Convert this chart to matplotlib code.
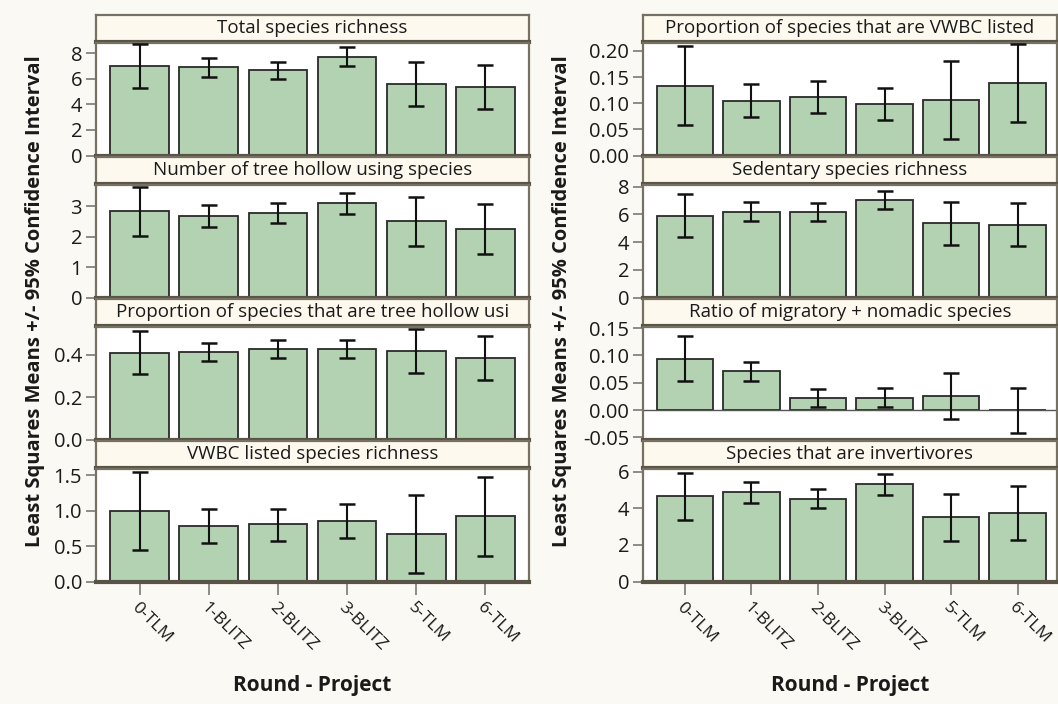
import matplotlib
matplotlib.use("Agg")
import matplotlib.pyplot as plt
from matplotlib.ticker import FixedLocator, FormatStrFormatter

plt.rcParams['font.family'] = ['Open Sans', 'DejaVu Sans']

rounds = ["0-TLM", "1-BLITZ", "2-BLITZ", "3-BLITZ", "5-TLM", "6-TLM"]

# Least squares means with lower / upper 95% confidence limits
total_rich = [7.00, 6.89, 6.65, 7.74, 5.59, 5.35]
total_rich_lo = [5.25, 6.15, 5.95, 7.00, 3.90, 3.66]
total_rich_hi = [8.76, 7.63, 7.34, 8.47, 7.31, 7.05]

hollow_n = [2.83, 2.68, 2.77, 3.09, 2.50, 2.25]
hollow_n_lo = [2.02, 2.32, 2.43, 2.74, 1.69, 1.44]
hollow_n_hi = [3.64, 3.03, 3.10, 3.43, 3.31, 3.06]

hollow_prop = [0.411, 0.413, 0.428, 0.427, 0.419, 0.387]
hollow_prop_lo = [0.308, 0.369, 0.385, 0.383, 0.316, 0.283]
hollow_prop_hi = [0.515, 0.456, 0.471, 0.472, 0.523, 0.491]

vwbc_rich = [1.00, 0.787, 0.81, 0.854, 0.674, 0.92]
vwbc_rich_lo = [0.44, 0.543, 0.575, 0.613, 0.113, 0.358]
vwbc_rich_hi = [1.55, 1.024, 1.03, 1.09, 1.22, 1.47]

vwbc_prop = [0.133, 0.105, 0.112, 0.098, 0.106, 0.139]
vwbc_prop_lo = [0.059, 0.073, 0.082, 0.067, 0.031, 0.064]
vwbc_prop_hi = [0.2085, 0.137, 0.142, 0.129, 0.180, 0.214]

sedentary = [5.91, 6.18, 6.18, 7.03, 5.36, 5.26]
sedentary_lo = [4.36, 5.53, 5.55, 6.40, 3.81, 3.69]
sedentary_hi = [7.46, 6.86, 6.81, 7.71, 6.86, 6.81]

migr_ratio = [0.094, 0.0716, 0.0214, 0.0226, 0.025, 0.0]
migr_ratio_lo = [0.0525, 0.054, 0.0049, 0.0054, -0.016, -0.0415]
migr_ratio_hi = [0.135, 0.0888, 0.0386, 0.0397, 0.067, 0.0405]

invert = [4.68, 4.86, 4.53, 5.30, 3.50, 3.74]
invert_lo = [3.38, 4.29, 4.02, 4.75, 2.20, 2.28]
invert_hi = [5.93, 5.41, 5.07, 5.85, 4.77, 5.21]

left_panels = [
    ("Total species richness", total_rich, total_rich_lo, total_rich_hi,
     (0, 8.84), [0, 2, 4, 6, 8], "%d"),
    ("Number of tree hollow using species", hollow_n, hollow_n_lo, hollow_n_hi,
     (0, 3.71), [0, 1, 2, 3], "%d"),
    ("Proportion of species that are tree hollow usi", hollow_prop,
     hollow_prop_lo, hollow_prop_hi, (0, 0.534), [0.0, 0.2, 0.4], "%.1f"),
    ("VWBC listed species richness", vwbc_rich, vwbc_rich_lo, vwbc_rich_hi,
     (0, 1.596), [0.0, 0.5, 1.0, 1.5], "%.1f"),
]
right_panels = [
    ("Proportion of species that are VWBC listed", vwbc_prop, vwbc_prop_lo,
     vwbc_prop_hi, (0, 0.216), [0.0, 0.05, 0.10, 0.15, 0.20], "%.2f"),
    ("Sedentary species richness", sedentary, sedentary_lo, sedentary_hi,
     (0, 8.15), [0, 2, 4, 6, 8], "%d"),
    ("Ratio of migratory + nomadic species", migr_ratio, migr_ratio_lo,
     migr_ratio_hi, (-0.054, 0.153), [-0.05, 0.0, 0.05, 0.10, 0.15], "%.2f"),
    ("Species that are invertivores", invert, invert_lo, invert_hi,
     (0, 6.17), [0, 2, 4, 6], "%d"),
]

W, H = 1058, 704
BG = "#fbf9f3"
STRIP_BG = "#fdf9ee"
FRAME = "#777163"
FRAME_DARK = "#5a5447"
BAR = "#b2d2b2"
BAR_EDGE = "#2a2a2a"
TICK = "#6e6e6e"
TXT = "#1a1a1a"

fig = plt.figure(figsize=(W / 100, H / 100), dpi=100, facecolor=BG)


def px_axes(x0, y0, x1, y1):
    """Axes from pixel box (top-left origin)."""
    return fig.add_axes([x0 / W, 1 - y1 / H, (x1 - x0) / W, (y1 - y0) / H])


PANEL_TOPS = [15, 157, 299, 441]
STRIP_H = 26.5
PANEL_H = 140.5
xs = list(range(len(rounds)))


def draw_column(panels, x0, x1, xlim):
    for i, (title, vals, lo, hi, ylim, ticks, fmt) in enumerate(panels):
        top = PANEL_TOPS[i]
        # strip header
        sa = px_axes(x0, top, x1, top + STRIP_H)
        sa.set_facecolor(STRIP_BG)
        sa.set_xticks([])
        sa.set_yticks([])
        for side, sp in sa.spines.items():
            sp.set_color(FRAME)
            sp.set_linewidth(1.6)
        sa.spines["bottom"].set_color(FRAME_DARK)
        sa.spines["bottom"].set_linewidth(3.0)
        sa.text(0.5, 0.5, title, transform=sa.transAxes, ha="center",
                va="center", fontsize=13.5, color=TXT, clip_on=True)

        # plot area
        ax = px_axes(x0, top + STRIP_H + 1, x1, top + PANEL_H)
        ax.set_facecolor("white")
        ax.bar(xs, vals, width=0.85, color=BAR, edgecolor=BAR_EDGE,
               linewidth=1.3, zorder=2)
        yerr = [[v - l for v, l in zip(vals, lo)],
                [h - v for v, h in zip(vals, hi)]]
        ax.errorbar(xs, vals, yerr=yerr, fmt="none", ecolor="#111111",
                    elinewidth=1.5, capsize=6.0, capthick=1.8, zorder=3)
        if ylim[0] < 0:
            ax.axhline(0, color="#555555", linewidth=1.0, zorder=2.5)
        ax.set_xlim(*xlim)
        ax.set_ylim(*ylim)
        ax.yaxis.set_major_locator(FixedLocator(ticks))
        ax.yaxis.set_major_formatter(FormatStrFormatter(fmt))
        ax.tick_params(axis="y", direction="out", length=7, width=1.1,
                       color=TICK, labelsize=14.5, labelcolor=TXT, pad=3)
        for side, sp in ax.spines.items():
            sp.set_color(FRAME)
            sp.set_linewidth(1.6)
        ax.spines["bottom"].set_color(FRAME_DARK)
        ax.spines["bottom"].set_linewidth(3.0)
        if i == len(panels) - 1:
            ax.set_xticks(xs)
            ax.set_xticklabels(rounds, rotation=-45, ha="left", va="top",
                               rotation_mode="anchor", fontsize=12.5,
                               color=TXT)
            ax.tick_params(axis="x", direction="out", length=9, width=1.1,
                           color=TICK, pad=4)
        else:
            ax.set_xticks([])


draw_column(left_panels, 96, 529, (-0.63, 5.63))
draw_column(right_panels, 643, 1057, (-0.63, 5.59))

ylab = "Least Squares Means +/- 95% Confidence Interval"
for xp in (35, 562):
    fig.text(xp / W, 1 - 301 / H, ylab, rotation=90, ha="center",
             va="center", fontsize=14.5, fontweight="bold", color=TXT)
for xp in (312.5, 850):
    fig.text(xp / W, 1 - 686 / H, "Round - Project", ha="center",
             va="center", fontsize=15, fontweight="bold", color=TXT)

fig.savefig("out.png", dpi=100, facecolor=BG)
